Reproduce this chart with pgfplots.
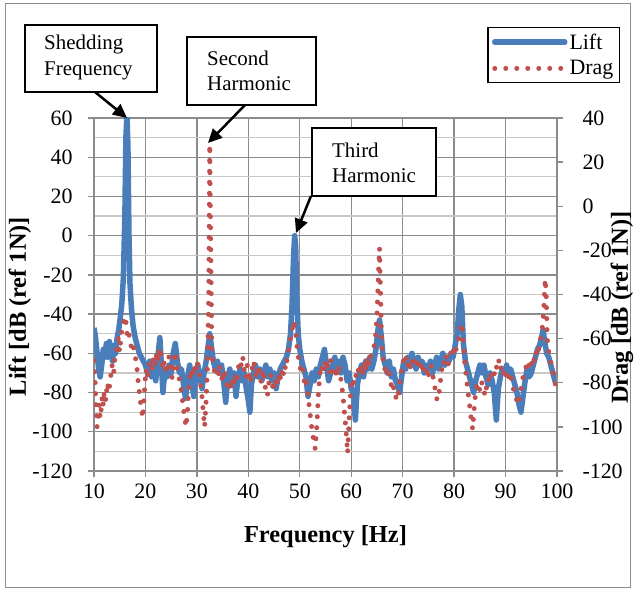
\documentclass[border=0pt]{standalone}
\usepackage{fontspec}
\setmainfont{Liberation Serif}
\usepackage{pgfplots}
\usepackage{pgfplotstable}
\pgfplotsset{compat=1.18}
\usetikzlibrary{arrows.meta}
\definecolor{liftblue}{HTML}{4A7EBB}
\definecolor{dragred}{HTML}{C0504D}
\definecolor{gridmaj}{HTML}{8C8C8C}
\definecolor{gridmin}{HTML}{C8C8C8}

\pgfplotstableread{
f L
10.0 -47
10.3 -52
10.6 -60
10.9 -68
11.2 -72
11.5 -66
11.8 -58
12.1 -62
12.4 -55
12.7 -62
13.0 -54
13.3 -58
13.6 -64
13.9 -56
14.2 -60
14.5 -52
14.8 -48
15.1 -42
15.4 -35
15.7 -22
16.0 10
16.2 50
16.4 62
16.6 45
16.8 0
17.0 -25
17.3 -38
17.6 -46
18.0 -52
18.4 -56
18.8 -60
19.2 -62
19.6 -64
20.0 -66
20.4 -70
20.8 -64
21.2 -72
21.6 -66
22.0 -74
22.4 -62
22.8 -52
23.1 -66
23.4 -80
23.8 -68
24.2 -72
24.6 -66
25.0 -70
25.4 -60
25.8 -55
26.2 -64
26.6 -70
27.0 -68
27.4 -76
27.8 -83
28.2 -72
28.6 -66
29.0 -75
29.4 -82
29.8 -70
30.2 -66
30.6 -72
31.0 -78
31.4 -70
31.8 -64
32.2 -56
32.5 -50
32.8 -56
33.2 -64
33.6 -68
34.0 -64
34.4 -70
34.8 -66
35.2 -74
35.6 -85
36.0 -72
36.4 -68
36.8 -76
37.2 -70
37.6 -82
38.0 -72
38.4 -68
38.8 -74
39.2 -70
39.6 -78
40.0 -84
40.3 -90
40.6 -76
41.0 -70
41.4 -66
41.8 -72
42.2 -68
42.6 -74
43.0 -70
43.4 -66
43.8 -72
44.2 -68
44.6 -74
45.0 -70
45.4 -78
45.8 -72
46.2 -68
46.6 -66
47.0 -64
47.4 -62
47.8 -58
48.2 -50
48.5 -35
48.8 -10
49.0 0
49.2 -5
49.4 -30
49.7 -50
50.0 -58
50.4 -64
50.8 -68
51.2 -72
51.6 -82
52.0 -76
52.4 -70
52.8 -74
53.2 -68
53.6 -72
54.0 -66
54.4 -62
54.8 -58
55.2 -66
55.6 -74
56.0 -70
56.4 -66
56.8 -62
57.2 -68
57.6 -64
58.0 -70
58.4 -62
58.8 -66
59.2 -74
59.6 -70
60.0 -78
60.4 -80
60.8 -94
61.2 -76
61.6 -70
62.0 -66
62.4 -72
62.8 -64
63.2 -68
63.6 -62
64.0 -68
64.4 -64
64.8 -58
65.2 -48
65.5 -43
65.8 -50
66.2 -62
66.6 -66
67.0 -70
67.4 -64
67.8 -72
68.2 -68
68.6 -74
69.0 -76
69.4 -80
69.8 -72
70.2 -64
70.6 -68
71.0 -62
71.4 -66
71.8 -60
72.2 -64
72.6 -68
73.0 -62
73.4 -66
73.8 -64
74.2 -70
74.6 -66
75.0 -68
75.4 -64
75.8 -70
76.2 -66
76.6 -62
77.0 -68
77.4 -64
77.8 -60
78.2 -66
78.6 -62
79.0 -64
79.4 -60
79.8 -62
80.2 -56
80.6 -50
80.9 -38
81.2 -30
81.5 -36
81.8 -55
82.2 -64
82.6 -68
83.0 -72
83.4 -76
83.8 -80
84.2 -74
84.6 -70
85.0 -66
85.4 -70
85.8 -66
86.2 -72
86.6 -76
87.0 -70
87.4 -74
87.8 -80
88.2 -94
88.6 -78
89.0 -72
89.4 -68
89.8 -70
90.2 -66
90.6 -70
91.0 -68
91.4 -72
91.8 -76
92.2 -80
92.6 -86
93.0 -90
93.4 -82
93.8 -74
94.2 -68
94.6 -72
95.0 -70
95.4 -66
95.8 -62
96.2 -58
96.6 -56
97.0 -52
97.3 -48
97.6 -54
98.0 -60
98.4 -62
98.8 -66
99.2 -70
99.6 -74
100.0 -76
}\lifttable

\pgfplotstableread{
f D
10.0 -70
10.2 -78
10.4 -92
10.6 -100
10.8 -97
11.0 -90
11.2 -96
11.4 -92
11.6 -86
11.8 -90
12.0 -84
12.3 -88
12.6 -80
12.9 -84
13.2 -78
13.5 -72
13.8 -76
14.1 -68
14.4 -64
14.7 -60
15.0 -66
15.3 -58
15.6 -54
15.9 -50
16.2 -52
16.5 -60
16.8 -58
17.1 -62
17.4 -66
17.7 -64
18.0 -68
18.3 -72
18.6 -80
18.9 -86
19.2 -92
19.5 -96
19.8 -84
20.1 -74
20.4 -78
20.7 -72
21.0 -70
21.3 -74
21.6 -68
21.9 -72
22.2 -66
22.5 -70
22.8 -64
23.1 -68
23.4 -74
23.7 -70
24.0 -76
24.3 -72
24.6 -68
24.9 -74
25.2 -78
25.5 -70
25.8 -66
26.1 -72
26.4 -76
26.7 -80
27.0 -84
27.3 -90
27.6 -96
27.9 -100
28.2 -92
28.5 -80
28.8 -74
29.1 -78
29.4 -72
29.7 -76
30.0 -70
30.3 -74
30.6 -78
30.9 -84
31.2 -92
31.5 -100
31.8 -88
32.1 -70
32.3 -40
32.5 28
32.7 -20
32.9 -66
33.2 -72
33.5 -76
33.8 -74
34.1 -78
34.4 -72
34.7 -76
35.0 -80
35.3 -74
35.6 -78
35.9 -82
36.2 -80
36.5 -84
36.8 -78
37.1 -82
37.4 -76
37.7 -80
38.0 -74
38.3 -70
38.6 -72
38.9 -68
39.2 -74
39.5 -78
39.8 -72
40.1 -76
40.4 -80
40.7 -74
41.0 -70
41.3 -74
41.6 -78
41.9 -72
42.2 -76
42.5 -80
42.8 -74
43.1 -78
43.4 -84
43.7 -86
44.0 -80
44.3 -76
44.6 -80
44.9 -84
45.2 -78
45.5 -82
45.8 -76
46.1 -80
46.4 -74
46.7 -78
47.0 -72
47.3 -74
47.6 -68
47.9 -64
48.2 -60
48.5 -56
48.8 -52
49.1 -55
49.4 -62
49.7 -68
50.0 -72
50.3 -76
50.6 -74
50.9 -80
51.2 -78
51.5 -84
51.8 -90
52.1 -96
52.4 -102
52.7 -106
53.0 -110
53.3 -100
53.6 -86
53.9 -76
54.2 -72
54.5 -76
54.8 -70
55.1 -74
55.4 -72
55.7 -76
56.0 -70
56.3 -72
56.6 -76
56.9 -74
57.2 -78
57.5 -72
57.8 -76
58.1 -80
58.4 -86
58.7 -94
59.0 -102
59.3 -112
59.6 -96
59.9 -84
60.2 -78
60.5 -80
60.8 -76
61.1 -78
61.4 -74
61.7 -76
62.0 -72
62.3 -76
62.6 -70
62.9 -74
63.2 -68
63.5 -72
63.8 -68
64.1 -66
64.4 -64
64.7 -60
65.0 -50
65.3 -30
65.5 -19
65.7 -40
65.9 -62
66.2 -70
66.5 -74
66.8 -72
67.1 -78
67.4 -76
67.7 -80
68.0 -84
68.3 -82
68.6 -86
68.9 -88
69.2 -84
69.5 -78
69.8 -74
70.1 -70
70.4 -72
70.7 -68
71.0 -72
71.3 -70
71.6 -74
71.9 -70
72.2 -68
72.5 -72
72.8 -70
73.1 -74
73.4 -70
73.7 -72
74.0 -76
74.3 -72
74.6 -74
74.9 -78
75.2 -74
75.5 -72
75.8 -76
76.1 -80
76.4 -84
76.7 -88
77.0 -86
77.3 -80
77.6 -74
77.9 -70
78.2 -72
78.5 -68
78.8 -72
79.1 -70
79.4 -66
79.7 -68
80.0 -64
80.3 -66
80.6 -62
80.9 -60
81.2 -56
81.5 -53
81.8 -62
82.1 -72
82.4 -78
82.7 -84
83.0 -90
83.3 -96
83.6 -101
83.9 -92
84.2 -84
84.5 -80
84.8 -82
85.1 -84
85.4 -80
85.7 -82
86.0 -86
86.3 -82
86.6 -78
86.9 -80
87.2 -76
87.5 -74
87.8 -76
88.1 -72
88.4 -74
88.7 -70
89.0 -74
89.3 -72
89.6 -76
89.9 -74
90.2 -78
90.5 -76
90.8 -80
91.1 -78
91.4 -82
91.7 -84
92.0 -86
92.3 -90
92.6 -88
92.9 -84
93.2 -80
93.5 -76
93.8 -74
94.1 -72
94.4 -74
94.7 -70
95.0 -72
95.3 -68
95.6 -70
95.9 -66
96.2 -68
96.5 -64
96.8 -60
97.1 -56
97.4 -48
97.7 -33
97.9 -40
98.1 -60
98.4 -66
98.7 -70
99.0 -72
99.3 -76
99.6 -80
100.0 -84
}\dragtable

\begin{document}
\begin{tikzpicture}
\path[use as bounding box] (0,0) rectangle (635bp,592bp);
\draw[gridmaj, line width=1bp] (5bp,4bp) rectangle (630bp,588bp);

\begin{axis}[
  at={(94bp,121bp)}, anchor=south west, scale only axis,
  width=463bp, height=353bp,
  xmin=10, xmax=100, ymin=-120, ymax=60,
  xtick={10,20,...,100}, ytick={-120,-100,...,60},
  minor ytick={-110,-90,...,50},
  grid=both,
  major grid style={color=gridmaj, line width=1.3bp},
  minor grid style={color=gridmin, line width=1.3bp},
  axis x line*=bottom, axis y line*=left,
  axis line style={-, color=gridmaj, line width=1.3bp},
  tick align=outside, major tick length=6bp, minor tick length=0pt,
  tick style={color=gridmaj, line width=1.3bp},
  ticklabel style={font=\fontsize{22}{26}\selectfont},
  yticklabel style={xshift=-12bp},
  xticklabel style={yshift=-3bp},
  /pgf/number format/assume math mode=true,
  xlabel={Frequency [Hz]}, ylabel={Lift [dB (ref 1N)]},
  label style={font=\bfseries\fontsize{24.5}{29}\selectfont},
  xlabel style={at={(axis description cs:0.5,0)}, anchor=center, yshift=-66bp},
  ylabel style={at={(axis description cs:0,0.5)}, anchor=center, yshift=74bp, xshift=-12bp},
]
\addplot[liftblue, line width=5.5bp, line join=round] table[x=f, y=L] {\lifttable};
\end{axis}

\begin{axis}[
  at={(94bp,121bp)}, anchor=south west, scale only axis,
  width=463bp, height=353bp,
  xmin=10, xmax=100, ymin=-120, ymax=40,
  axis x line=none, axis y line*=right,
  ytick={-120,-100,...,40},
  axis line style={-, color=gridmaj, line width=1.3bp},
  tick align=outside, major tick length=6bp,
  tick style={color=gridmaj, line width=1.3bp},
  ticklabel style={font=\fontsize{22}{26}\selectfont},
  yticklabel style={xshift=16bp},
  /pgf/number format/assume math mode=true,
  ylabel={Drag [dB (ref 1N)]},
  label style={font=\bfseries\fontsize{24.5}{29}\selectfont},
  ylabel style={at={(axis description cs:1,0.5)}, anchor=center, yshift=-65bp, xshift=-13bp},
  legend style={at={(axis description cs:1.136,1.258)}, anchor=north east,
    draw=black, line width=1.3bp, fill=white,
    font=\fontsize{22}{26}\selectfont, inner xsep=4bp, inner ysep=6bp, row sep=10bp,
    nodes={inner xsep=2bp, inner ysep=0bp}},
  legend cell align=left,
  legend image code/.code={\draw[#1] (0bp,0bp) -- (70bp,0bp);},
]
\addlegendimage{liftblue, line width=5.5bp, line cap=round}
\addlegendentry{Lift}
\addplot[dragred, line width=5bp, line cap=round, dash pattern=on 0bp off 11bp] table[x=f, y=D] {\dragtable};
\addlegendentry{Drag}
\end{axis}

% annotations
\begin{scope}[font=\fontsize{21}{25}\selectfont]
\draw[black, line width=1.3bp, fill=white] (25bp,500bp) rectangle (157bp,567bp);
\node[anchor=west, inner sep=0] at (44bp,547bp) {Shedding};
\node[anchor=west, inner sep=0] at (44bp,521bp) {Frequency};
\draw[black, line width=2.5bp, -{Triangle[length=14bp,width=13bp]}] (95bp,500bp) -- (127bp,474bp);

\draw[black, line width=1.3bp, fill=white] (187bp,487bp) rectangle (316bp,555bp);
\node[anchor=west, inner sep=0] at (207bp,534bp) {Second};
\node[anchor=west, inner sep=0] at (207bp,508bp) {Harmonic};
\draw[black, line width=2.5bp, -{Triangle[length=14bp,width=13bp]}] (245bp,487bp) -- (208bp,449bp);

\draw[black, line width=1.3bp, fill=white] (312bp,396bp) rectangle (436bp,464bp);
\node[anchor=west, inner sep=0] at (332bp,442bp) {Third};
\node[anchor=west, inner sep=0] at (332bp,416bp) {Harmonic};
\draw[black, line width=2.5bp, -{Triangle[length=14bp,width=13bp]}] (311bp,396bp) -- (296bp,359bp);
\end{scope}
\end{tikzpicture}
\end{document}
